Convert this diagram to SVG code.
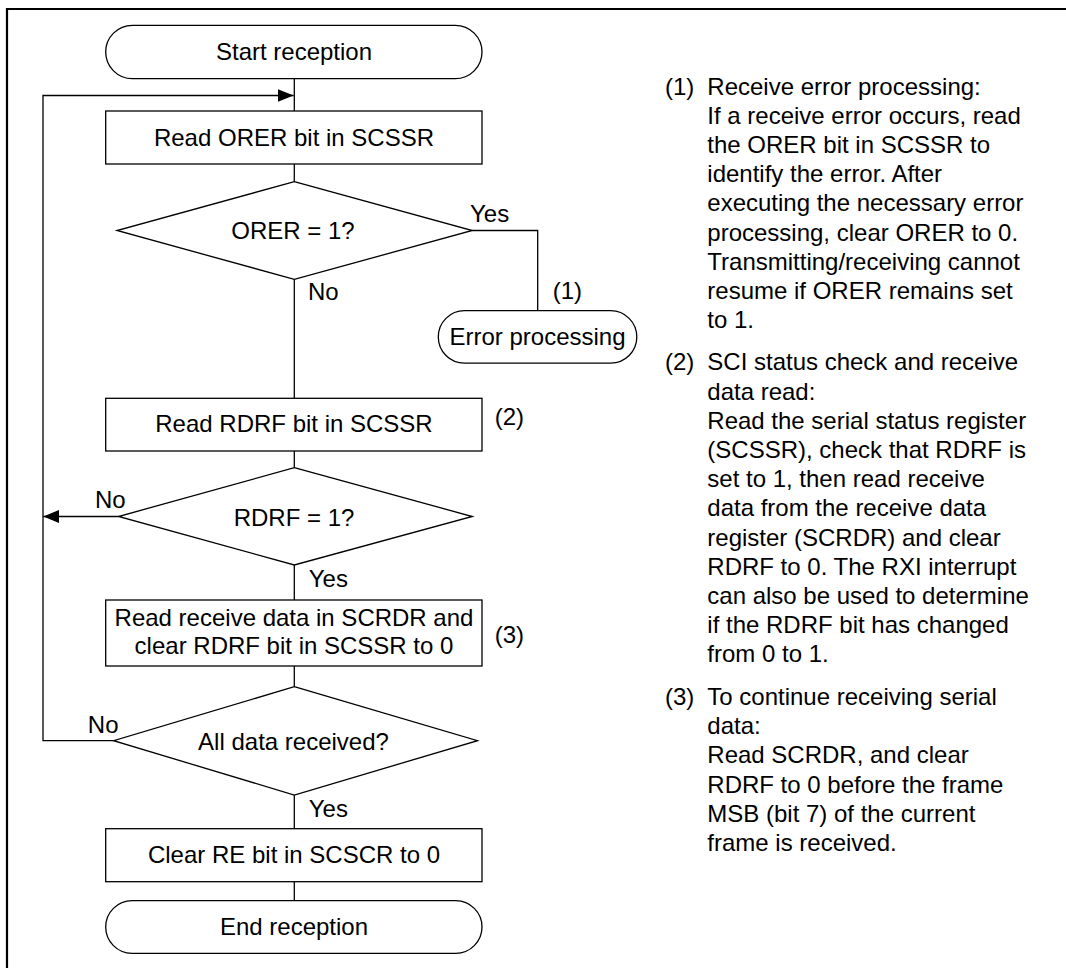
<svg xmlns="http://www.w3.org/2000/svg" width="1066" height="968" viewBox="0 0 1066 968">
<style>
.s{fill:#fff;stroke:#000;stroke-width:1.3}
.c{fill:none;stroke:#000;stroke-width:1.3}
.t{font-family:"Liberation Sans",Arial,sans-serif;font-size:24px;fill:#000}
.m{text-anchor:middle}
</style>
<defs>
<marker id="ah" markerWidth="16" markerHeight="13" refX="16" refY="6.5" orient="auto" markerUnits="userSpaceOnUse">
<path d="M0,0 L16,6.5 L0,13 Z" fill="#000"/>
</marker>
</defs>
<rect x="0" y="0" width="1066" height="968" fill="#fff"/>
<g id="frame">
<line x1="7" y1="9" x2="1066" y2="9" stroke="#000" stroke-width="2.2"/>
<line x1="7" y1="8" x2="7" y2="968" stroke="#000" stroke-width="2.2"/>
</g>
<g id="connectors">
<line class="c" x1="294.3" y1="78.7" x2="294.3" y2="111"/>
<line class="c" x1="294.3" y1="164" x2="294.3" y2="181.7"/>
<line class="c" x1="294.3" y1="279.3" x2="294.3" y2="398.3"/>
<polyline class="c" points="472.3,230.5 537.7,230.5 537.7,310.7"/>
<line class="c" x1="294.3" y1="451" x2="294.3" y2="467.7"/>
<line class="c" x1="118.5" y1="516.5" x2="43.3" y2="516.5" marker-end="url(#ah)"/>
<line class="c" x1="294.3" y1="565" x2="294.3" y2="600"/>
<line class="c" x1="294.3" y1="666" x2="294.3" y2="686.7"/>
<polyline class="c" points="113.6,740.7 43,740.7 43,95.5 293.6,95.5" marker-end="url(#ah)"/>
<line class="c" x1="294.3" y1="795" x2="294.3" y2="828.7"/>
<line class="c" x1="294.3" y1="881.7" x2="294.3" y2="900.7"/>
<text class="t" x="470" y="221.7">Yes</text>
<text class="t" x="308" y="300">No</text>
<text class="t" x="552.7" y="299">(1)</text>
<text class="t" x="95" y="507.5">No</text>
<text class="t" x="308.8" y="586.7">Yes</text>
<text class="t" x="87.8" y="732.7">No</text>
<text class="t" x="308.8" y="816.7">Yes</text>
<text class="t" x="494.7" y="425">(2)</text>
<text class="t" x="494.7" y="643.3">(3)</text>
</g>
<g id="start">
<rect class="s" x="105.7" y="25.3" width="376.3" height="53.4" rx="26.7"/>
<text class="t m" x="294" y="60">Start reception</text>
</g>
<g id="read-orer">
<rect class="s" x="105.7" y="111" width="376.3" height="53"/>
<text class="t m" x="294" y="145.7">Read ORER bit in SCSSR</text>
</g>
<g id="orer-check">
<polygon class="s" points="294.3,181.7 472.3,230.5 294.3,279.3 117,230.5"/>
<text class="t m" x="293" y="239.3">ORER = 1?</text>
</g>
<g id="error-processing">
<rect class="s" x="438.3" y="310.7" width="198.5" height="52.5" rx="26.2"/>
<text class="t m" x="537.5" y="345">Error processing</text>
</g>
<g id="read-rdrf">
<rect class="s" x="105.7" y="398.3" width="376.3" height="52.7"/>
<text class="t m" x="294" y="432.3">Read RDRF bit in SCSSR</text>
</g>
<g id="rdrf-check">
<polygon class="s" points="294.3,467.7 472.3,516.5 294.3,565 118.5,516.5"/>
<text class="t m" x="294" y="525.7">RDRF = 1?</text>
</g>
<g id="read-data">
<rect class="s" x="105.7" y="600" width="376.3" height="66"/>
<text class="t m" x="294" y="626">Read receive data in SCRDR and</text>
<text class="t m" x="294" y="654">clear RDRF bit in SCSSR to 0</text>
</g>
<g id="all-check">
<polygon class="s" points="294.3,686.7 477.5,740.7 294.3,795 113.6,740.7"/>
<text class="t m" x="293.5" y="750">All data received?</text>
</g>
<g id="clear-re">
<rect class="s" x="105.7" y="828.7" width="376.3" height="53"/>
<text class="t m" x="294" y="862.7">Clear RE bit in SCSCR to 0</text>
</g>
<g id="end">
<rect class="s" x="105.7" y="900.7" width="376.3" height="52.6" rx="26.3"/>
<text class="t m" x="294" y="935">End reception</text>
</g>
<g id="notes">
<text class="t" x="665" y="94.5">(1)</text>
<text class="t" x="707.3" y="94.5">Receive error processing:</text>
<text class="t" x="707.3" y="123.7">If a receive error occurs, read</text>
<text class="t" x="707.3" y="152.9">the ORER bit in SCSSR to</text>
<text class="t" x="707.3" y="182.1">identify the error. After</text>
<text class="t" x="707.3" y="211.3">executing the necessary error</text>
<text class="t" x="707.3" y="240.5">processing, clear ORER to 0.</text>
<text class="t" x="707.3" y="269.7">Transmitting/receiving cannot</text>
<text class="t" x="707.3" y="298.9">resume if ORER remains set</text>
<text class="t" x="707.3" y="328.1">to 1.</text>
<text class="t" x="665" y="370.3">(2)</text>
<text class="t" x="707.3" y="370.3">SCI status check and receive</text>
<text class="t" x="707.3" y="399.5">data read:</text>
<text class="t" x="707.3" y="428.7">Read the serial status register</text>
<text class="t" x="707.3" y="457.9">(SCSSR), check that RDRF is</text>
<text class="t" x="707.3" y="487.1">set to 1, then read receive</text>
<text class="t" x="707.3" y="516.3">data from the receive data</text>
<text class="t" x="707.3" y="545.5">register (SCRDR) and clear</text>
<text class="t" x="707.3" y="574.7">RDRF to 0. The RXI interrupt</text>
<text class="t" x="707.3" y="603.9">can also be used to determine</text>
<text class="t" x="707.3" y="633.1">if the RDRF bit has changed</text>
<text class="t" x="707.3" y="662.3">from 0 to 1.</text>
<text class="t" x="665" y="705">(3)</text>
<text class="t" x="707.3" y="705">To continue receiving serial</text>
<text class="t" x="707.3" y="734.2">data:</text>
<text class="t" x="707.3" y="763.4">Read SCRDR, and clear</text>
<text class="t" x="707.3" y="792.6">RDRF to 0 before the frame</text>
<text class="t" x="707.3" y="821.8">MSB (bit 7) of the current</text>
<text class="t" x="707.3" y="851">frame is received.</text>
</g>
</svg>
